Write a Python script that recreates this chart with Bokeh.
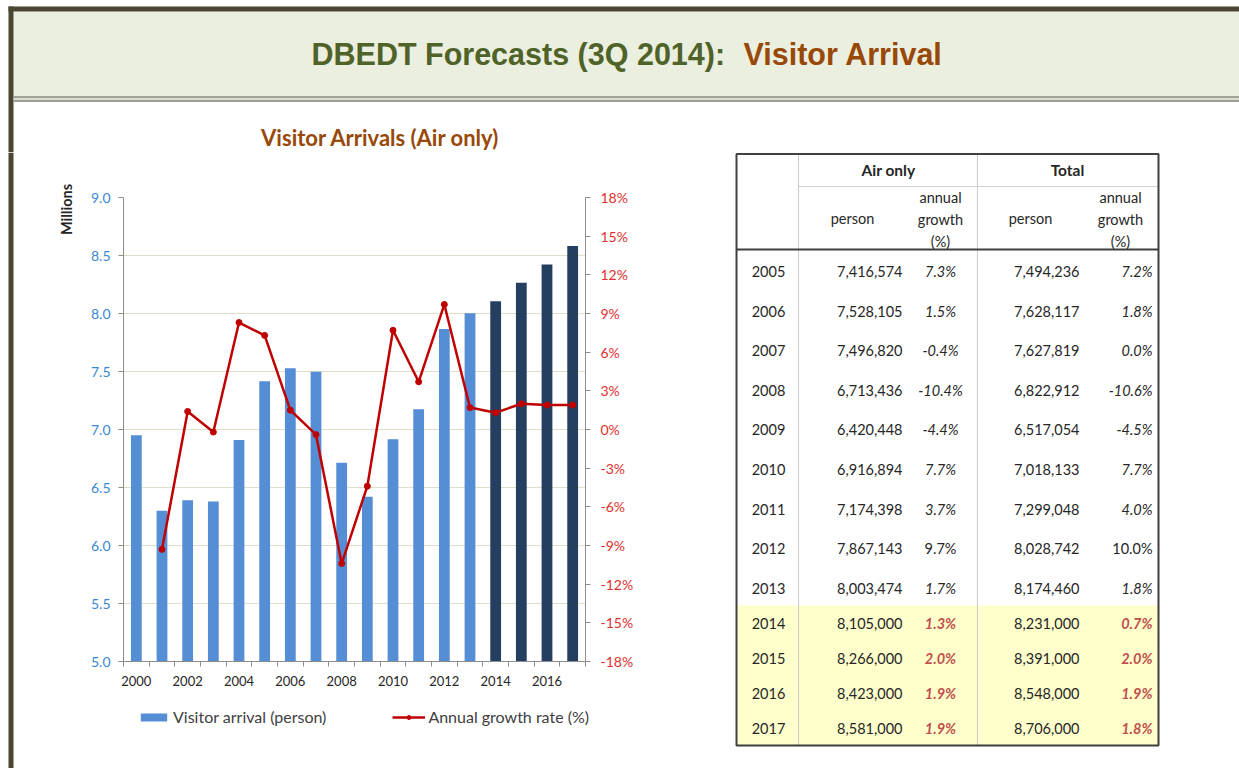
import math
from bokeh.plotting import figure
from bokeh.models import (Range1d, LinearAxis, FixedTicker, PrintfTickFormatter,
                          Legend, LegendItem, ColumnDataSource)
from bokeh.layouts import row, column
from bokeh.core.properties import value
from bokeh.embed import file_html
from bokeh.resources import INLINE

# ---------------- data ----------------
years = list(range(2000, 2018))
arrivals_millions = [6.950, 6.300, 6.390, 6.380, 6.910, 7.417, 7.528, 7.497, 6.713,
                     6.420, 6.917, 7.174, 7.867, 8.003, 8.105, 8.266, 8.423, 8.581]
forecast_start = 2014
growth_years = list(range(2001, 2018))
growth_pct = [-9.3, 1.4, -0.2, 8.3, 7.3, 1.5, -0.4, -10.4, -4.4, 7.7, 3.7, 9.7,
              1.7, 1.3, 2.0, 1.9, 1.9]
left_ticks = [5.0, 5.5, 6.0, 6.5, 7.0, 7.5, 8.0, 8.5, 9.0]
right_ticks = [-18, -15, -12, -9, -6, -3, 0, 3, 6, 9, 12, 15, 18]
x_labels = [2000, 2002, 2004, 2006, 2008, 2010, 2012, 2014, 2016]

table_years = list(range(2005, 2018))
air_person = [7416574, 7528105, 7496820, 6713436, 6420448, 6916894, 7174398,
              7867143, 8003474, 8105000, 8266000, 8423000, 8581000]
air_growth = [7.3, 1.5, -0.4, -10.4, -4.4, 7.7, 3.7, 9.7, 1.7, 1.3, 2.0, 1.9, 1.9]
total_person = [7494236, 7628117, 7627819, 6822912, 6517054, 7018133, 7299048,
                8028742, 8174460, 8231000, 8391000, 8548000, 8706000]
total_growth = [7.2, 1.8, 0.0, -10.6, -4.5, 7.7, 4.0, 10.0, 1.8, 0.7, 2.0, 1.9, 1.8]
upright_years = [2012]

# ---------------- styles ----------------
DARK = "#4a4631"
FONT = "Lato"
TXT = "#262626"
HIST_BAR = dict(fill_color="#558ed5", line_color=None)
FCST_BAR = dict(fill_color="#243f60", line_color=None)
GLINE = dict(line_color="#c00000", line_width=2.5)
GPTS = dict(size=6, fill_color="#c00000", line_color="#c00000")
HTOP = 152  # page y where the body row starts


def blank(w, h, xr, yr, **kw):
    f = figure(width=w, height=h, x_range=Range1d(*xr), y_range=Range1d(*yr),
               output_backend="svg", toolbar_location=None,
               x_axis_location=None, y_axis_location=None, **kw)
    f.grid.visible = False
    f.outline_line_color = None
    f.background_fill_color = "white"
    f.border_fill_color = "white"
    return f


# ---------------- header (page y 0..HTOP) ----------------
header = blank(1239, HTOP, (0, 1239), (HTOP, 0), min_border=0)
header.quad(left=[13], right=[1239], top=[11], bottom=[96], fill_color="#ebefdf", line_color=None)
header.quad(left=[8], right=[1239], top=[6], bottom=[11], fill_color=DARK, line_color=None)
header.quad(left=[8], right=[13], top=[6], bottom=[HTOP], fill_color=DARK, line_color=None)
header.segment(x0=[13], x1=[1239], y0=[96.5], y1=[96.5], line_color="#85857a", line_width=1.5)
header.segment(x0=[13], x1=[1239], y0=[98.5], y1=[98.5], line_color="#cfd1c0", line_width=1.5)
header.segment(x0=[13], x1=[1239], y0=[100.5], y1=[100.5], line_color="#7c7c6c", line_width=1.5)
header.text(x=[311], y=[53], text=["DBEDT Forecasts (3Q 2014):"], text_font=value("Liberation Sans"),
            text_font_style="bold", text_font_size="30.5px", text_color="#4f6228",
            text_align="left", text_baseline="middle")
header.text(x=[743], y=[53], text=["Visitor Arrival"], text_font=value("Liberation Sans"),
            text_font_style="bold", text_font_size="30.5px", text_color="#984807",
            text_align="left", text_baseline="middle")
header.text(x=[380], y=[137], text=["Visitor Arrivals (Air only)"], text_font=value(FONT),
            text_font_style="bold", text_font_size="22px", text_color="#984807",
            text_align="center", text_baseline="middle")

# ---------------- left strip (page x 0..80) ----------------
left = blank(80, 768 - HTOP, (0, 80), (768, HTOP), min_border=0)
left.quad(left=[8], right=[13], top=[HTOP], bottom=[768], fill_color=DARK, line_color=None)
left.text(x=[66], y=[209], text=["Millions"], angle=math.pi / 2, text_font=value(FONT),
          text_font_style="bold", text_font_size="14.5px", text_color=TXT,
          text_align="center", text_baseline="middle")

# ---------------- chart (page x 80..700) ----------------
chart = figure(frame_width=462, frame_height=464, x_range=Range1d(1999.5, 2017.5),
               y_range=Range1d(5.0, 9.0), output_backend="svg", toolbar_location=None,
               min_border_left=43, min_border_right=115, min_border_top=197 - HTOP,
               min_border_bottom=40)
chart.outline_line_color = None
chart.background_fill_color = "white"
chart.border_fill_color = "white"
chart.xgrid.visible = False

lticker = FixedTicker(ticks=left_ticks, minor_ticks=[])
yax = chart.left[0]
yax.ticker = lticker
chart.ygrid.ticker = lticker
chart.ygrid.grid_line_color = "#dfdec9"
chart.ygrid.grid_line_width = 1
yax.formatter = PrintfTickFormatter(format="%.1f")
yax.axis_line_color = "#8c8c8c"
yax.major_tick_line_color = "#8c8c8c"
yax.major_tick_out = 5
yax.major_tick_in = 0
yax.minor_tick_line_color = None
yax.major_label_standoff = 8
yax.major_label_text_font = FONT
yax.major_label_text_font_size = "14px"
yax.major_label_text_color = "#3a88d0"

xax = chart.below[0]
xax.ticker = FixedTicker(ticks=x_labels, minor_ticks=[y - 0.5 for y in years] + [years[-1] + 0.5])
xax.axis_line_color = "#8c8c8c"
xax.major_tick_out = 0
xax.major_tick_in = 0
xax.minor_tick_out = 5
xax.minor_tick_in = 0
xax.minor_tick_line_color = "#8c8c8c"
xax.major_label_standoff = 9
xax.major_label_text_font = FONT
xax.major_label_text_font_size = "13px"
xax.major_label_text_color = TXT

chart.extra_y_ranges = {"g": Range1d(-18, 18)}
rax = LinearAxis(y_range_name="g", ticker=FixedTicker(ticks=right_ticks, minor_ticks=[]),
                 formatter=PrintfTickFormatter(format="%d%%"))
rax.axis_line_color = "#8c8c8c"
rax.major_tick_line_color = "#8c8c8c"
rax.major_tick_out = 5
rax.major_tick_in = 0
rax.minor_tick_line_color = None
rax.major_label_standoff = 10
rax.major_label_text_font = FONT
rax.major_label_text_font_size = "14px"
rax.major_label_text_color = "#e0302e"
chart.add_layout(rax, "right")

hist = ColumnDataSource(dict(
    x=[y for y in years if y < forecast_start],
    top=[v for y, v in zip(years, arrivals_millions) if y < forecast_start]))
fcst = ColumnDataSource(dict(
    x=[y for y in years if y >= forecast_start],
    top=[v for y, v in zip(years, arrivals_millions) if y >= forecast_start]))
grow = ColumnDataSource(dict(x=growth_years, y=growth_pct))
chart.vbar(x="x", top="top", bottom=5.0, width=0.42, source=hist, **HIST_BAR)
chart.vbar(x="x", top="top", bottom=5.0, width=0.42, source=fcst, **FCST_BAR)
chart.line(x="x", y="y", source=grow, y_range_name="g", **GLINE)
chart.scatter(x="x", y="y", source=grow, y_range_name="g", **GPTS)

# ---------------- legend strip under the chart ----------------
# same sources as the chart; the strip's ranges keep the marks out of view,
# only the legend swatches are shown
leg = blank(620, 56, (0, 1), (0, 1), min_border=0)
lb = leg.vbar(x="x", top="top", bottom=5.0, width=0.42, source=hist, **HIST_BAR)
ll = leg.line(x="x", y="y", source=grow, **GLINE)
lp = leg.scatter(x="x", y="y", source=grow, **GPTS)
legend = Legend(items=[LegendItem(label="Visitor arrival (person)", renderers=[lb]),
                       LegendItem(label="Annual growth rate (%)", renderers=[ll, lp])],
                orientation="horizontal", location=(57, 31))
legend.margin = 0
legend.padding = 8
legend.spacing = 66
legend.glyph_width = 33
legend.glyph_height = 10
legend.label_height = 18
legend.label_standoff = 3
legend.label_text_font = FONT
legend.label_text_font_size = "16px"
legend.label_text_color = "#404040"
legend.border_line_color = None
legend.background_fill_alpha = 0
leg.add_layout(legend, "center")

# ---------------- table (page x 700..1239) ----------------
tab = blank(539, 768 - HTOP, (700, 1239), (768, HTOP), min_border=0)
TL, TR, TT, TB = 736, 1158, 153.5, 745
YCOL, GCOL = 798, 977

row_y = []
for i, y in enumerate(table_years):
    if y < forecast_start:
        row_y.append(271 + 39.6 * i)
    else:
        row_y.append(623 + 35 * (y - forecast_start))

tab.quad(left=[TL], right=[TR], top=[605], bottom=[TB], fill_color="#ffffcc", line_color=None)
tab.segment(x0=[YCOL, GCOL, YCOL], x1=[YCOL, GCOL, TR], y0=[TT, TT, 186], y1=[TB, TB, 186],
            line_color="#cfcfcf", line_width=1.2)
tab.segment(x0=[TL], x1=[TR], y0=[249], y1=[249], line_color="#3f3f3f", line_width=2)
tab.quad(left=[TL], right=[TR], top=[TT], bottom=[TB], fill_alpha=0, line_color="#3f3f3f", line_width=2)

hdr_kw = dict(text_font=value(FONT), text_font_size="14.5px", text_color=TXT,
              text_align="center", text_baseline="middle")
tab.text(x=[888, 1067], y=[169, 169], text=["Air only", "Total"], text_font_style="bold",
         **{**hdr_kw, "text_font_size": "15.5px"})
tab.text(x=[852, 1030], y=[218, 218], text=["person", "person"], **hdr_kw)
tab.text(x=[940, 940, 940, 1120, 1120, 1120], y=[197, 219, 241, 197, 219, 241],
         text=["annual", "growth", "(%)", "annual", "growth", "(%)"], **hdr_kw)

g_color, g_style = [], []
for y in table_years:
    if y >= forecast_start:
        g_color.append("#c0504d"); g_style.append("bold italic")
    elif y in upright_years:
        g_color.append(TXT); g_style.append("normal")
    else:
        g_color.append(TXT); g_style.append("italic")

tsrc = ColumnDataSource(dict(
    y=row_y,
    year=[str(y) for y in table_years],
    ap=[f"{v:,}" for v in air_person],
    ag=[f"{v:.1f}%" for v in air_growth],
    tp=[f"{v:,}" for v in total_person],
    tg=[f"{v:.1f}%" for v in total_growth],
    gc=g_color, gs=g_style))
cell = dict(source=tsrc, text_font=value(FONT), text_font_size="14.5px", text_baseline="middle")
tab.text(x=768, y="y", text="year", text_align="center", text_color=TXT, **cell)
tab.text(x=902, y="y", text="ap", text_align="right", text_color=TXT, **cell)
tab.text(x=940, y="y", text="ag", text_align="center", text_color="gc", text_font_style="gs", **cell)
tab.text(x=1079, y="y", text="tp", text_align="right", text_color=TXT, **cell)
tab.text(x=1152, y="y", text="tg", text_align="right", text_color="gc", text_font_style="gs", **cell)

page = column(header, row(left, column(chart, column(leg)), tab))
open("out.html", "w").write(file_html(page, INLINE))
